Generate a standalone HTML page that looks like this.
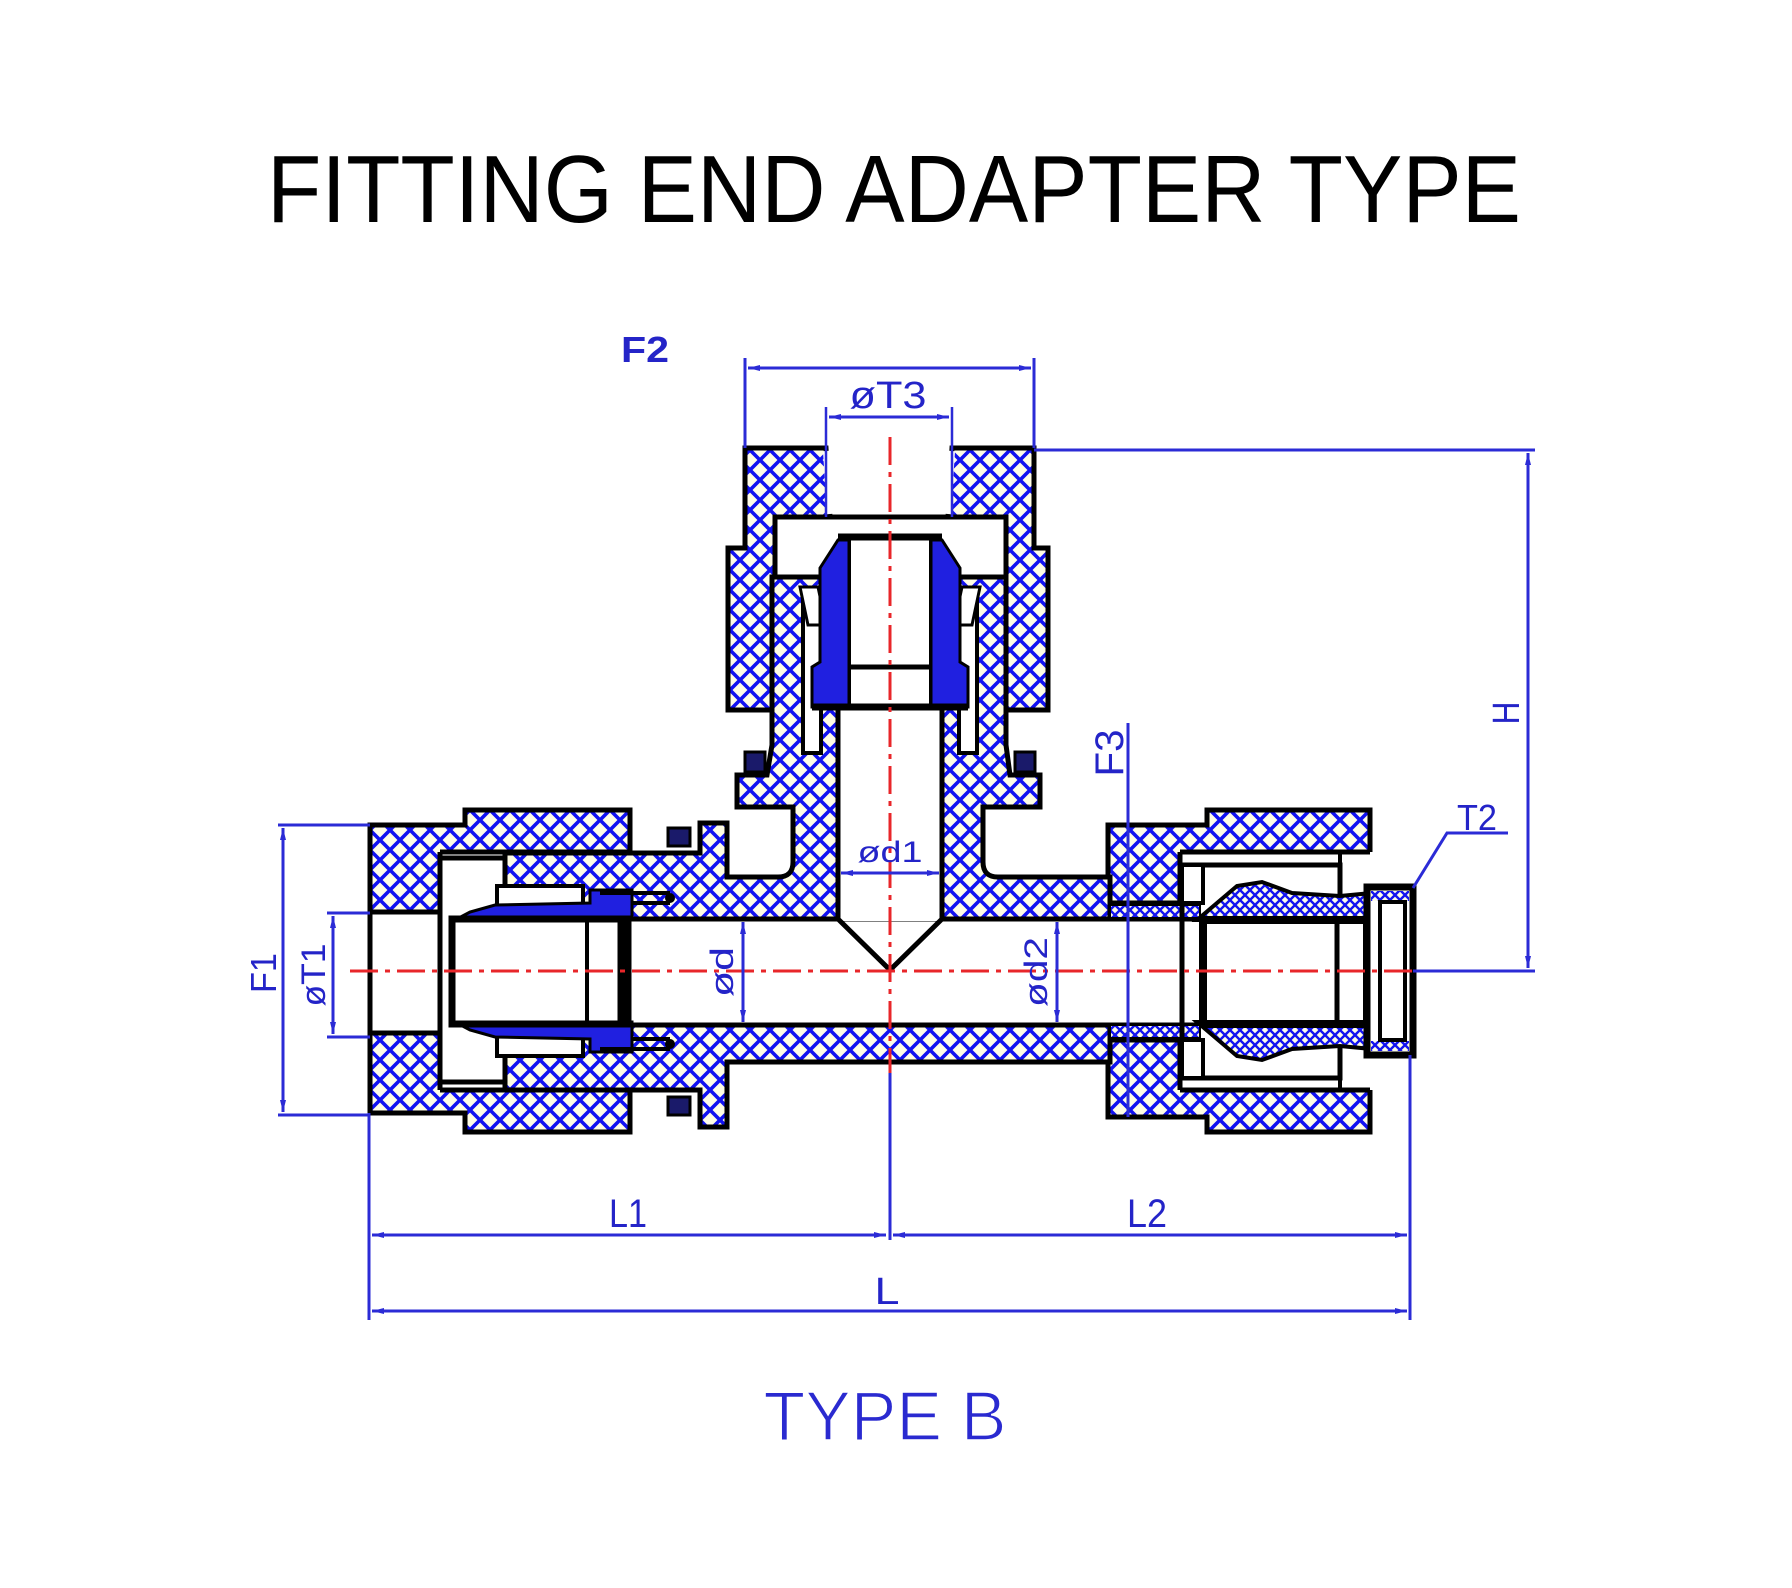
<!DOCTYPE html>
<html><head><meta charset="utf-8"><style>
html,body{margin:0;padding:0;background:#fff;}
svg{display:block;}
text{font-family:"Liberation Sans",Arial,sans-serif;}
</style></head><body>
<svg width="1792" height="1588" viewBox="0 0 1792 1588" xmlns="http://www.w3.org/2000/svg">
<defs>
<pattern id="h" width="20" height="20" patternUnits="userSpaceOnUse">
<rect width="20" height="20" fill="#fffde6"/>
<path d="M0,0 L20,20 M20,0 L0,20 M-2,2 L2,-2 M18,22 L22,18 M18,-2 L22,2 M-2,18 L2,22" stroke="#1212f0" stroke-width="3.6"/>
</pattern>
<pattern id="h2" width="10" height="10" patternUnits="userSpaceOnUse">
<rect width="10" height="10" fill="#fffde6"/>
<path d="M0,0 L10,10 M10,0 L0,10 M-1,1 L1,-1 M9,11 L11,9 M9,-1 L11,1 M-1,9 L1,11" stroke="#1414f0" stroke-width="2.4"/>
</pattern>
<marker id="a" viewBox="0 0 12 6" refX="12" refY="3" markerWidth="13" markerHeight="6" orient="auto-start-reverse" markerUnits="userSpaceOnUse">
<path d="M0,0 L12,3 L0,6 Z" fill="#2b2bd6"/>
</marker>
</defs>

<!-- Title -->
<text x="894" y="222" font-size="96" text-anchor="middle" textLength="1254" lengthAdjust="spacingAndGlyphs" fill="#000">FITTING END ADAPTER TYPE</text>

<g stroke="#000" stroke-width="5" stroke-linejoin="miter">
<!-- Left nut -->
<path d="M370,825 L465,825 L465,810 L630,810 L630,1132 L465,1132 L465,1113 L370,1113 Z" fill="url(#h)"/>
<rect x="440" y="852" width="193" height="238" fill="#fff" stroke="none"/>
<path d="M440,852 H632 M440,1090 H632 M440,852 V1090" fill="none"/>
<rect x="372" y="912" width="68" height="121" fill="#fff" stroke="none"/>
<path d="M370,912 H440 M370,1033 H440 M370,825 V1113" fill="none"/>

<!-- Top nut -->
<path d="M745,448 L826,448 L830,517 L775,517 L775,710 L728,710 L728,548 L745,548 Z" fill="url(#h)"/>
<path d="M952,448 L1034,448 L1034,548 L1048,548 L1048,710 L1006,710 L1006,517 L948,517 Z" fill="url(#h)"/>
<path d="M826,451 L830,514 M952,451 L948,514" stroke="#fff" stroke-width="6" fill="none"/>

<!-- Right nut -->
<path d="M1108,825 L1207,825 L1207,810 L1370,810 L1370,1132 L1207,1132 L1207,1117 L1108,1117 Z" fill="url(#h)"/>
<rect x="1180" y="852" width="195" height="238" fill="#fff" stroke="none"/>
<path d="M1180,852 H1370 M1180,1090 H1370 M1180,852 V903 M1180,1040 V1090" fill="none"/>
<rect x="1105" y="903" width="80" height="137" fill="#fff" stroke="none"/>
<path d="M1108,903 H1180 M1108,1040 H1180" fill="none"/>

<!-- Body -->
<path d="M772,577 L1006,577 L1006,745 L1010,775 L1040,775 L1040,807 L983,807 L983,862 Q983,877 998,877 L1110,877 L1110,1062 L727,1062 L727,1127 L700,1127 L700,1090 L505,1090 L505,853 L700,853 L700,823 L727,823 L727,877 L778,877 Q793,877 793,862 L793,807 L737,807 L737,775 L767,775 L772,745 Z" fill="url(#h)"/>

<!-- Horizontal bore -->
<rect x="440" y="919" width="765" height="106" fill="#fff" stroke="none"/>
<path d="M630,919 H1205 M630,1025 H1205" fill="none"/>
<!-- Vertical bore -->
<rect x="838" y="577" width="104" height="344" fill="#fff" stroke="none"/>
<path d="M838,707 V919 L890,970 L942,919 V707" fill="none"/>

<!-- Top cavity box -->
<rect x="775" y="517" width="231" height="60" fill="#fff"/>
<!-- slots -->
<rect x="803" y="590" width="18" height="163" fill="#fff" stroke-width="4"/>
<rect x="959" y="590" width="18" height="163" fill="#fff" stroke-width="4"/>
<path d="M800,587 L818,587 L826,625 L808,625 Z M980,587 L962,587 L954,625 L972,625 Z" fill="#fff" stroke-width="3"/>
<!-- top insert -->
<rect x="849" y="537" width="82" height="170" fill="#fff" stroke-width="4"/>
<path d="M820,568 L838,540 L849,540 L849,707 L812,707 L812,667 L820,662 Z" fill="#2020e0" stroke-width="3"/>
<path d="M960,568 L942,540 L931,540 L931,707 L968,707 L968,667 L960,662 Z" fill="#2020e0" stroke-width="3"/>
<path d="M849,667 H931" fill="none" stroke-width="5"/>
<path d="M812,707 H968 M838,537 H942" fill="none" stroke-width="7"/>

<!-- Left interior -->
<rect x="440" y="858" width="65" height="224" fill="#fff" stroke-width="5"/>
<rect x="497" y="886" width="86" height="32" fill="#fff" stroke-width="4"/>
<rect x="497" y="1024" width="86" height="32" fill="#fff" stroke-width="4"/>
<path d="M455,920 L470,912 L495,905 L590,903 L590,890 L632,890 L632,920 Z" fill="#2020e0" stroke-width="3"/>
<path d="M455,1022 L470,1030 L495,1037 L590,1039 L590,1052 L632,1052 L632,1022 Z" fill="#2020e0" stroke-width="3"/>
<path d="M600,893 H670 M632,903 H670 M600,1049 H670 M632,1039 H670" fill="none" stroke-width="4"/>
<circle cx="670" cy="898" r="5" fill="#000" stroke="none"/>
<circle cx="670" cy="1044" r="5" fill="#000" stroke="none"/>
<rect x="452" y="919" width="176" height="105" fill="#fff" stroke-width="7"/>
<path d="M623,919 V1024" stroke-width="11" fill="none"/>
<path d="M587,919 V1024" stroke-width="4" fill="none"/>

<!-- Right interior -->
<rect x="1110" y="905" width="90" height="13" fill="url(#h2)" stroke-width="2"/>
<rect x="1110" y="1025" width="90" height="13" fill="url(#h2)" stroke-width="2"/>
<rect x="1182" y="865" width="158" height="213" fill="none" stroke-width="5"/>
<rect x="1182" y="865" width="21" height="38" fill="#fff" stroke-width="4"/>
<rect x="1182" y="1040" width="21" height="38" fill="#fff" stroke-width="4"/>
<path d="M1340,852 V892 M1340,1050 V1090" fill="none" stroke-width="4"/>
<path d="M1197,920 L1237,886 L1262,882 L1292,893 L1340,896 L1372,893 L1372,920 Z" fill="url(#h2)" stroke-width="4"/>
<path d="M1197,1022 L1237,1056 L1262,1060 L1292,1049 L1340,1046 L1372,1049 L1372,1022 Z" fill="url(#h2)" stroke-width="4"/>
<rect x="1203" y="920" width="164" height="104" fill="#fff" stroke-width="8"/>
<path d="M1337,920 V1024" fill="none" stroke-width="5"/>
<rect x="1367" y="887" width="46" height="168" fill="#fff" stroke-width="7"/>
<rect x="1371" y="891" width="38" height="10" fill="url(#h2)" stroke="none"/>
<rect x="1371" y="1041" width="38" height="10" fill="url(#h2)" stroke="none"/>
<rect x="1380" y="902" width="25" height="138" fill="none" stroke-width="4"/>

<!-- nubs -->
<rect x="745" y="752" width="20" height="20" fill="#1a1a6a" stroke-width="3"/>
<rect x="1015" y="752" width="20" height="20" fill="#1a1a6a" stroke-width="3"/>
<rect x="668" y="828" width="22" height="18" fill="#1a1a6a" stroke-width="3"/>
<rect x="668" y="1097" width="22" height="18" fill="#1a1a6a" stroke-width="3"/>
</g>

<!-- Centerlines -->
<g stroke="#e8262a" stroke-width="3" stroke-dasharray="28 7 5 7" fill="none">
<path d="M350,971 H1413"/>
<path d="M890,437 V1073"/>
</g>

<!-- Dimensions -->
<g stroke="#2b2bd6" stroke-width="3" fill="none">
<!-- T3 -->
<path d="M745,358 V448 M1034,358 V448"/>
<path d="M748,368 H1031" marker-start="url(#a)" marker-end="url(#a)"/>
<path d="M826,407 V517 M952,407 V517" stroke-width="2.5"/>
<path d="M829,417 H949" marker-start="url(#a)" marker-end="url(#a)"/>
<!-- H -->
<path d="M1034,450 H1535 M1413,971 H1535"/>
<path d="M1528,453 V968" marker-start="url(#a)" marker-end="url(#a)"/>
<!-- F3 -->
<path d="M1128,723 V1117"/>
<!-- T2 leader -->
<path d="M1413,888 L1447,833 H1508"/>
<!-- F1 -->
<path d="M278,825 H370 M278,1115 H370"/>
<path d="M283,828 V1112" marker-start="url(#a)" marker-end="url(#a)"/>
<!-- T1 -->
<path d="M327,913 H370 M327,1037 H370"/>
<path d="M333,916 V1034" marker-start="url(#a)" marker-end="url(#a)"/>
<!-- d, d2, d1 -->
<path d="M743,922 V1022" marker-start="url(#a)" marker-end="url(#a)"/>
<path d="M1057,922 V1022" marker-start="url(#a)" marker-end="url(#a)"/>
<path d="M841,873 H939" marker-start="url(#a)" marker-end="url(#a)"/>
<!-- L extension -->
<path d="M369,1113 V1320 M1410,1055 V1320 M890,1073 V1240"/>
<path d="M372,1235 H886" marker-start="url(#a)" marker-end="url(#a)"/>
<path d="M893,1235 H1407" marker-start="url(#a)" marker-end="url(#a)"/>
<path d="M372,1311 H1407" marker-start="url(#a)" marker-end="url(#a)"/>
</g>

<!-- Labels -->
<g fill="#2424c8">
<text x="645" y="362" font-size="36" font-weight="bold" text-anchor="middle" textLength="48" lengthAdjust="spacingAndGlyphs">F2</text>
<text x="888" y="408" font-size="38" text-anchor="middle" textLength="77" lengthAdjust="spacingAndGlyphs">øT3</text>
<text x="890" y="862" font-size="30" text-anchor="middle" textLength="65" lengthAdjust="spacingAndGlyphs">ød1</text>
<text x="1477" y="830" font-size="36" text-anchor="middle" textLength="40" lengthAdjust="spacingAndGlyphs">T2</text>
<text x="628" y="1227" font-size="40" text-anchor="middle" textLength="38" lengthAdjust="spacingAndGlyphs">L1</text>
<text x="1147" y="1227" font-size="40" text-anchor="middle" textLength="40" lengthAdjust="spacingAndGlyphs">L2</text>
<text x="887" y="1304" font-size="38" text-anchor="middle" textLength="25" lengthAdjust="spacingAndGlyphs">L</text>
<g transform="translate(263,973) rotate(-90)"><text x="0" y="13" font-size="36" text-anchor="middle" textLength="40" lengthAdjust="spacingAndGlyphs">F1</text></g>
<g transform="translate(313,975) rotate(-90)"><text x="0" y="12" font-size="34" text-anchor="middle" textLength="63" lengthAdjust="spacingAndGlyphs">øT1</text></g>
<g transform="translate(722,972) rotate(-90)"><text x="0" y="11" font-size="32" text-anchor="middle" textLength="50" lengthAdjust="spacingAndGlyphs">ød</text></g>
<g transform="translate(1036,972) rotate(-90)"><text x="0" y="11" font-size="32" text-anchor="middle" textLength="70" lengthAdjust="spacingAndGlyphs">ød2</text></g>
<g transform="translate(1108,753) rotate(-90)"><text x="0" y="15" font-size="40" text-anchor="middle" textLength="47" lengthAdjust="spacingAndGlyphs">F3</text></g>
<g transform="translate(1505,713) rotate(-90)"><text x="0" y="14" font-size="38" text-anchor="middle" textLength="23" lengthAdjust="spacingAndGlyphs">H</text></g>
<text x="885" y="1440" font-size="70" text-anchor="middle" textLength="243" lengthAdjust="spacingAndGlyphs" fill="#2a2ad0" stroke="#fff" stroke-width="1.6">TYPE B</text>
</g>
</svg>
</body></html>
